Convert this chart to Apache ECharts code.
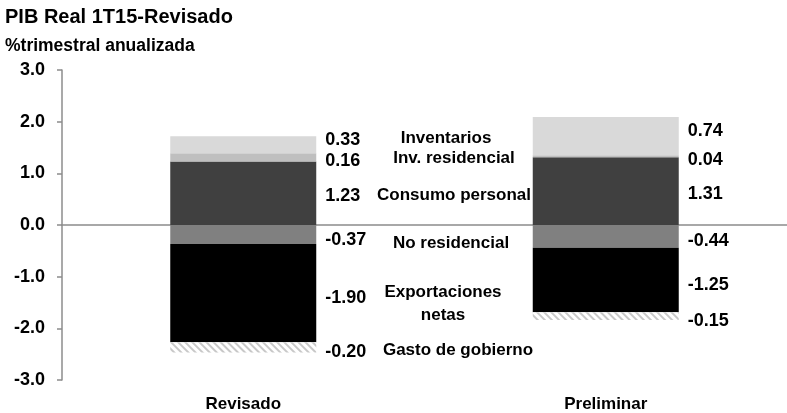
<!DOCTYPE html>
<html>
<head>
<meta charset="utf-8">
<script src="https://cdn.jsdelivr.net/npm/echarts@6/dist/echarts.min.js"></script>
<style>
    html, body {margin:0;padding:0;background:#ffffff;}
    #chart {width:787px;height:413px;}
</style>
</head>
<body>
<div id="chart"></div>
<script>
    // datos
    var categorias = ['Revisado', 'Preliminar'];
    var consumoPersonal = [1.23, 1.31];
    var invResidencial = [0.16, 0.04];
    var inventarios = [0.33, 0.74];
    var noResidencial = [-0.37, -0.44];
    var exportacionesNetas = [-1.90, -1.25];
    var gastoGobierno = [-0.20, -0.15];
    var ticksY = [-3, -2, -1, 0, 1, 2, 3];

    var fuente = '"Liberation Sans", Arial, sans-serif';

    function etiqueta(dy) {
        return {
            show: true,
            position: 'right',
            distance: 9,
            offset: [0, dy],
            color: '#000',
            fontFamily: fuente,
            fontWeight: 'bold',
            fontSize: 18,
            formatter: function (p) { return p.value.toFixed(2); }
        };
    }

    function serie(nombre, datos, color, dy, extra) {
        var s = {
            name: nombre,
            type: 'bar',
            stack: 'pib',
            barWidth: 146,
            data: datos,
            itemStyle: {color: color},
            label: etiqueta(dy),
            emphasis: {disabled: true}
        };
        if (extra) { s.itemStyle = extra; }
        return s;
    }

    function texto(t, x, y) {
        return {
            type: 'text', x: x, y: y,
            style: {text: t, font: 'bold 17px ' + fuente, fill: '#000', align: 'center', verticalAlign: 'middle'}
        };
    }

    var chart = echarts.init(document.getElementById('chart'));

    var option = {
        animation: false,
        textStyle: {fontFamily: fuente},
        grid: {left: 62, width: 733, top: 70, bottom: 33},
        xAxis: [
            {
                type: 'category',
                data: categorias,
                axisLine: {onZero: true, lineStyle: {color: '#8c8c8c', width: 1.5}},
                axisTick: {show: false},
                axisLabel: {show: false}
            },
            {
                type: 'category',
                data: categorias,
                position: 'bottom',
                axisLine: {show: false, onZero: false},
                axisTick: {show: false},
                axisLabel: {
                    margin: 16,
                    color: '#000',
                    fontFamily: fuente,
                    fontWeight: 'bold',
                    fontSize: 17
                }
            }
        ],
        yAxis: {
            type: 'value',
            min: ticksY[0],
            max: ticksY[ticksY.length - 1],
            interval: 1,
            splitLine: {show: false},
            axisLine: {show: true, lineStyle: {color: '#8c8c8c', width: 1.5}},
            axisTick: {show: true, length: 5, lineStyle: {color: '#8c8c8c', width: 1.5}},
            axisLabel: {
                margin: 17,
                color: '#000',
                fontFamily: fuente,
                fontWeight: 'bold',
                fontSize: 18,
                formatter: function (v) { return v.toFixed(1); }
            }
        },
        series: [
            serie('Consumo personal', consumoPersonal, '#404040', 3),
            serie('Inv. residencial', invResidencial, '#bfbfbf', 4),
            serie('Inventarios', inventarios, '#d9d9d9', -5),
            serie('No residencial', noResidencial, '#808080', 5),
            serie('Exportaciones netas', exportacionesNetas, '#000000', 5),
            serie('Gasto de gobierno', gastoGobierno, '#ffffff', 5, {
                color: '#ffffff',
                decal: {
                    symbol: 'rect',
                    color: '#c8c8c8',
                    dashArrayX: [1, 0],
                    dashArrayY: [2, 3],
                    rotation: Math.PI / 4
                }
            })
        ],
        graphic: [
            {type: 'text', left: 5, top: 7, style: {text: 'PIB Real 1T15-Revisado', font: 'bold 20px ' + fuente, fill: '#000'}},
            {type: 'text', left: 5, top: 37, style: {text: '%trimestral anualizada', font: 'bold 17.5px ' + fuente, fill: '#000'}},
            texto('Inventarios', 446, 138),
            texto('Inv. residencial', 454, 158),
            texto('Consumo personal', 454, 195),
            texto('No residencial', 451, 243),
            texto('Exportaciones', 443, 292),
            texto('netas', 443, 315),
            texto('Gasto de gobierno', 458, 350)
        ]
    };

    chart.setOption(option);
</script>
</body>
</html>
